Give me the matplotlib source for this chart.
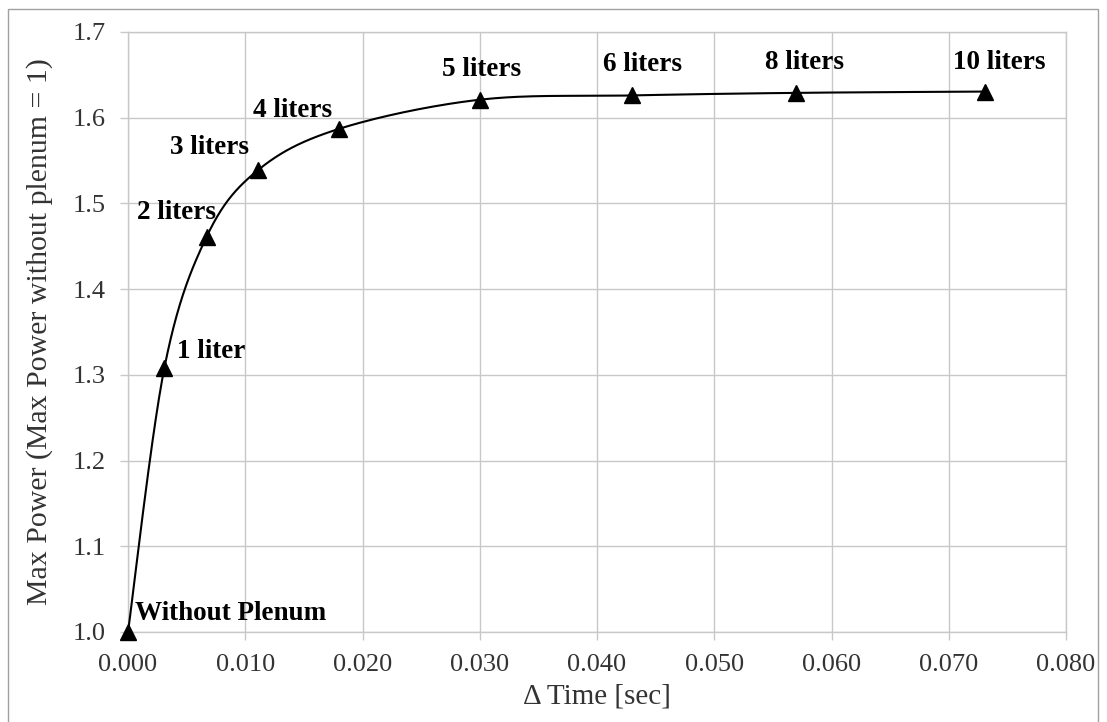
import numpy as np
import matplotlib.pyplot as plt
from matplotlib.patches import Rectangle

plt.rcParams['font.family'] = ['Liberation Serif', 'DejaVu Serif']

# data
delta_time = [0.0, 0.0031, 0.0067, 0.0111, 0.0180, 0.0300, 0.0430, 0.0570, 0.0731]
max_power = [1.000, 1.308, 1.461, 1.539, 1.587, 1.621, 1.626, 1.629, 1.6305]
names = ['Without Plenum', '1 liter', '2 liters', '3 liters', '4 liters',
         '5 liters', '6 liters', '8 liters', '10 liters']

x_ticks = [0.0, 0.01, 0.02, 0.03, 0.04, 0.05, 0.06, 0.07, 0.08]
y_ticks = [1.0, 1.1, 1.2, 1.3, 1.4, 1.5, 1.6, 1.7]

# label offsets in pixels (dx, dy) from the marker, and alignment
label_off = [(7, 19, 'left'), (13, 16, 'left'), (-30, 24, 'center'),
             (-49, 23, 'center'), (-46, 18, 'center'), (2, 30, 'center'),
             (10, 31, 'center'), (8, 30, 'center'), (14, 29, 'center')]

W, H = 1107, 722
fig = plt.figure(figsize=(W / 100, H / 100), dpi=100)
ax = fig.add_axes([128 / W, (H - 632) / H, (1066 - 128) / W, 600 / H])

ax.set_xlim(0, 0.08)
ax.set_ylim(1.0, 1.7)
ax.set_xticks(x_ticks)
ax.set_yticks(y_ticks)
ax.set_xticklabels(['%.3f' % v for v in x_ticks])
ax.set_yticklabels(['%.1f' % v for v in y_ticks])

grid_c = '#c8c8c8'
ax.grid(True, color=grid_c, linewidth=1.0)
ax.set_axisbelow(True)
for s in ax.spines.values():
    s.set_color(grid_c)
    s.set_linewidth(1.0)
ax.tick_params(axis='both', direction='out', length=6, width=1.0, color=grid_c,
               labelsize=19, labelcolor='#333333', pad=10)

ax.set_xlabel('\u0394 Time [sec]', fontsize=21, color='#333333', labelpad=5)
ax.set_ylabel('Max Power (Max Power without plenum = 1)', fontsize=21.5,
              color='#333333', labelpad=14)

# smoothed line (Catmull-Rom style bezier in screen space, like Excel)
pts = ax.transData.transform(np.column_stack([delta_time, max_power]))
n = len(pts)
curve = []
for i in range(n - 1):
    p0 = pts[max(i - 1, 0)]
    p1 = pts[i]
    p2 = pts[i + 1]
    p3 = pts[min(i + 2, n - 1)]
    c1 = p1 + (p2 - p0) / 6.0
    c2 = p2 - (p3 - p1) / 6.0
    t = np.linspace(0, 1, 40)[:, None]
    seg = ((1 - t) ** 3) * p1 + 3 * ((1 - t) ** 2) * t * c1 + 3 * (1 - t) * t ** 2 * c2 + t ** 3 * p2
    curve.append(seg)
curve = np.vstack(curve)
curve = ax.transData.inverted().transform(curve)
ax.plot(curve[:, 0], curve[:, 1], color='black', linewidth=1.5, zorder=3)

ax.plot(delta_time, max_power, linestyle='none', marker='^', markersize=11,
        color='black', zorder=4, clip_on=False)

for i, txt in enumerate(names):
    dx, dy, ha = label_off[i]
    ax.annotate(txt, (delta_time[i], max_power[i]), xytext=(dx * 0.72, dy * 0.72),
                textcoords='offset points', ha=ha, va='center',
                fontsize=19.5, fontweight='bold', color='black', zorder=5)

# outer chart border
fig.patches.append(Rectangle((8 / W, -0.05), (1098 - 8) / W, 1.05 - 9 / H,
                             transform=fig.transFigure, fill=False,
                             edgecolor='#a0a0a0', linewidth=1.0))

plt.savefig('out.png', dpi=100)
